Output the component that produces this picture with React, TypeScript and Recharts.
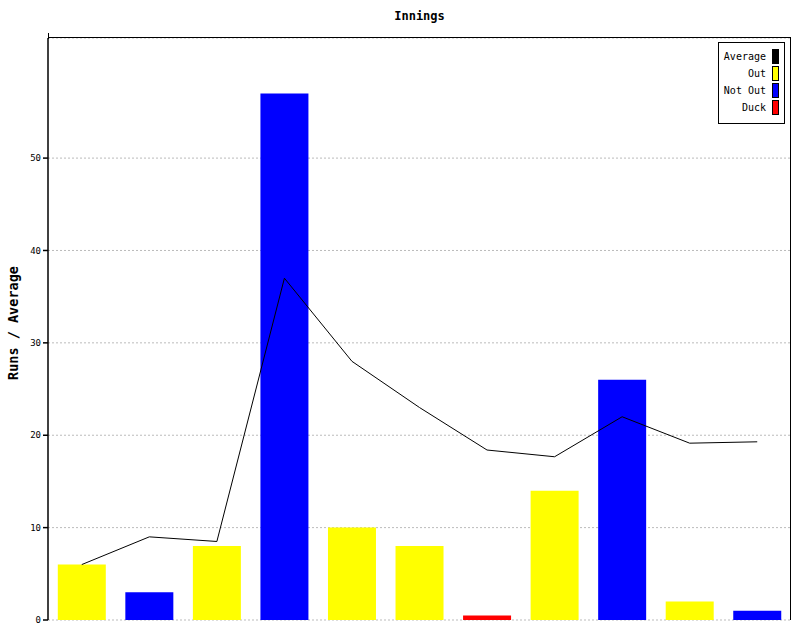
import React from 'react';
import { ComposedChart, Bar, Line, XAxis, YAxis, CartesianGrid, Cell } from 'recharts';

const innings = ['1', '2', '3', '4', '5', '6', '7', '8', '9', '10', '11'];
const runs = [6, 3, 8, 57, 10, 8, 0.5, 14, 26, 2, 1];
const outcome = ['Out', 'Not Out', 'Out', 'Not Out', 'Out', 'Out', 'Duck', 'Out', 'Not Out', 'Out', 'Not Out'];
const average = [6, 9, 8.5, 37, 28, 23, 18.4, 17.67, 22, 19.14, 19.29];
const yTicks = [0, 10, 20, 30, 40, 50];

const colours: Record<string, string> = {
  Average: '#000000',
  Out: '#ffff00',
  'Not Out': '#0000ff',
  Duck: '#ff0000',
};
const legendItems = ['Average', 'Out', 'Not Out', 'Duck'];

const data = innings.map((name, i) => ({
  name,
  runs: runs[i],
  outcome: outcome[i],
  average: average[i],
}));

const mono = '"DejaVu Sans Mono", "Liberation Mono", monospace';

export default function App() {
  return (
    <div style={{ position: 'absolute', left: 0, top: 0, width: 800, height: 640, background: '#fff', fontFamily: mono }}>
      <div style={{ position: 'absolute', left: 48, width: 743, top: 9, textAlign: 'center', fontSize: 12, fontWeight: 'bold' }}>
        Innings
      </div>
      <div
        style={{
          position: 'absolute', left: 13, top: 323, fontSize: 13.5, fontWeight: 'bold', whiteSpace: 'nowrap',
          transform: 'translate(-50%, -50%) rotate(-90deg)',
        }}
      >
        Runs / Average
      </div>
      <ComposedChart
        width={800}
        height={640}
        data={data}
        margin={{ top: 38, right: 9, bottom: 20, left: 8 }}
        barCategoryGap="14.5%"
      >
        <CartesianGrid vertical={false} horizontal stroke="#bbbbbb" strokeDasharray="2 2" />
        <XAxis dataKey="name" tick={false} tickLine={false} height={0} axisLine={{ stroke: '#000', strokeWidth: 1.5 }} />
        <YAxis
          domain={[0, 63]}
          ticks={yTicks}
          width={40}
          axisLine={{ stroke: '#000', strokeWidth: 1.5 }}
          tickLine={{ stroke: '#000', strokeWidth: 1.5 }}
          tickSize={5}
          tick={{ fill: '#000', fontSize: 9, fontFamily: mono }}
        />
        <Bar dataKey="runs" isAnimationActive={false}>
          {data.map((d, i) => (
            <Cell key={i} fill={colours[d.outcome]} />
          ))}
        </Bar>
        <Line dataKey="average" type="linear" stroke="#000" strokeWidth={1} dot={false} activeDot={false} isAnimationActive={false} />
      </ComposedChart>
      {/* plot frame: top and right edges, left axis stub above the top */}
      <div style={{ position: 'absolute', left: 48, top: 37, width: 743, height: 583, borderTop: '1.5px solid #000', borderRight: '1.5px solid #000', boxSizing: 'border-box', pointerEvents: 'none' }} />
      <div style={{ position: 'absolute', left: 47.5, top: 33, width: 1.5, height: 6, background: '#000' }} />
      <div
        style={{
          position: 'absolute', left: 718, top: 42, width: 65, height: 80, border: '1px solid #000',
          fontSize: 10, boxSizing: 'content-box',
        }}
      >
        {legendItems.map((item, i) => (
          <div key={item} style={{ position: 'absolute', right: 5, top: 6 + i * 17, display: 'flex', alignItems: 'center', whiteSpace: 'nowrap' }}>
            <span style={{ marginRight: 6 }}>{item}</span>
            <span style={{ width: 5, height: 13, background: colours[item], border: '1px solid #000', display: 'inline-block' }} />
          </div>
        ))}
      </div>
    </div>
  );
}
